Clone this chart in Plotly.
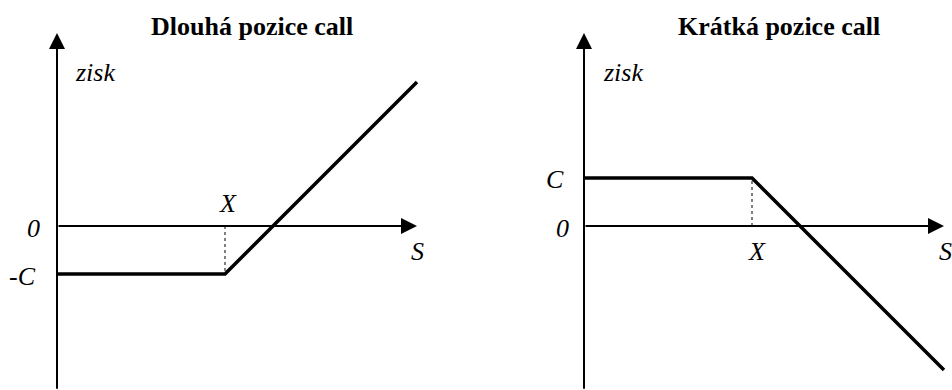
import plotly.graph_objects as go

# ---- data (in abstract units: premium C = 1) ----
premium_C = 1.0
strike_X = 3.5
S_max = 7.5
S_axis_end = 7.5
profit_axis_min = -3.42
profit_axis_max = 4.02

long_S = [0.0, strike_X, S_max]
long_profit = [-premium_C, -premium_C, S_max - strike_X - premium_C]
short_S = [0.0, strike_X, S_max]
short_profit = [premium_C, premium_C, premium_C - (S_max - strike_X)]

titles = ["Dlouhá pozice call", "Krátká pozice call"]

W, H = 952, 390
PX = 48.0  # pixels per unit
fig = go.Figure()

font_family = '"Liberation Serif", "Times New Roman", Times, serif'

left_origin_px = 57
right_origin_px = 584
origin_y_px = 226
half = W / 2
xr_left = [-left_origin_px / PX, (half - left_origin_px) / PX]
xr_right = [-(right_origin_px - half) / PX, (W - right_origin_px) / PX]
yr = [-(H - origin_y_px) / PX, origin_y_px / PX]

hidden = dict(visible=False, fixedrange=True)
fig.update_layout(
    width=W, height=H,
    margin=dict(l=0, r=0, t=0, b=0),
    paper_bgcolor="white", plot_bgcolor="white",
    showlegend=False,
    font=dict(family=font_family),
    xaxis=dict(domain=[0, 0.5], range=xr_left, **hidden),
    xaxis2=dict(domain=[0.5, 1], range=xr_right, **hidden),
    yaxis=dict(domain=[0, 1], range=yr, **hidden),
    yaxis2=dict(domain=[0, 1], range=yr, anchor="x2", **hidden),
)

panels = [
    ("x", "y", long_S, long_profit, -premium_C),
    ("x2", "y2", short_S, short_profit, premium_C),
]

annotations = []
for i, (xa, ya, S, P, flat) in enumerate(panels):
    fig.add_trace(go.Scatter(x=S, y=P, mode="lines", xaxis=xa, yaxis=ya,
                             line=dict(color="black", width=3.5),
                             hoverinfo="skip"))
    fig.add_trace(go.Scatter(x=[strike_X, strike_X], y=[0, flat], mode="lines",
                             xaxis=xa, yaxis=ya,
                             line=dict(color="black", width=1, dash="dot"),
                             hoverinfo="skip"))
    annotations.append(dict(x=S_axis_end, y=0, ax=0, ay=0, xref=xa, yref=ya,
                            axref=xa, ayref=ya, text="", showarrow=True,
                            arrowhead=2, arrowsize=1.6, arrowwidth=2,
                            arrowcolor="black", standoff=0))
    annotations.append(dict(x=0, y=profit_axis_max, ax=0, ay=profit_axis_min,
                            xref=xa, yref=ya, axref=xa, ayref=ya, text="",
                            showarrow=True, arrowhead=2, arrowsize=1.6,
                            arrowwidth=2, arrowcolor="black", standoff=0))

lab_font = dict(family=font_family, size=26, color="black", style="italic")

def lab(text, x, y, xa, ya):
    annotations.append(dict(text=text, x=x, y=y, xref=xa, yref=ya,
                            showarrow=False, font=lab_font,
                            xanchor="center", yanchor="middle"))

lab("zisk", 0.79, 3.19, "x", "y")
lab("X", 3.56, 0.46, "x", "y")
lab("0", -0.5, -0.06, "x", "y")
lab("-C", -0.71, -1.06, "x", "y")
lab("S", 7.52, -0.54, "x", "y")
lab("zisk", 0.81, 3.19, "x2", "y2")
lab("C", -0.6, 0.96, "x2", "y2")
lab("0", -0.44, -0.06, "x2", "y2")
lab("X", 3.6, -0.54, "x2", "y2")
lab("S", 7.54, -0.54, "x2", "y2")

for t, cx in zip(titles, [252, 779]):
    annotations.append(dict(text="<b>" + t + "</b>", x=cx / W, y=1 - 27 / H,
                            xref="paper", yref="paper", showarrow=False,
                            xanchor="center", yanchor="middle",
                            font=dict(family=font_family, size=26, color="black")))

fig.update_layout(annotations=annotations)
fig.write_html("out.html", config={"displayModeBar": False},
               post_script="document.body.style.margin='0';document.body.style.overflow='hidden';")
